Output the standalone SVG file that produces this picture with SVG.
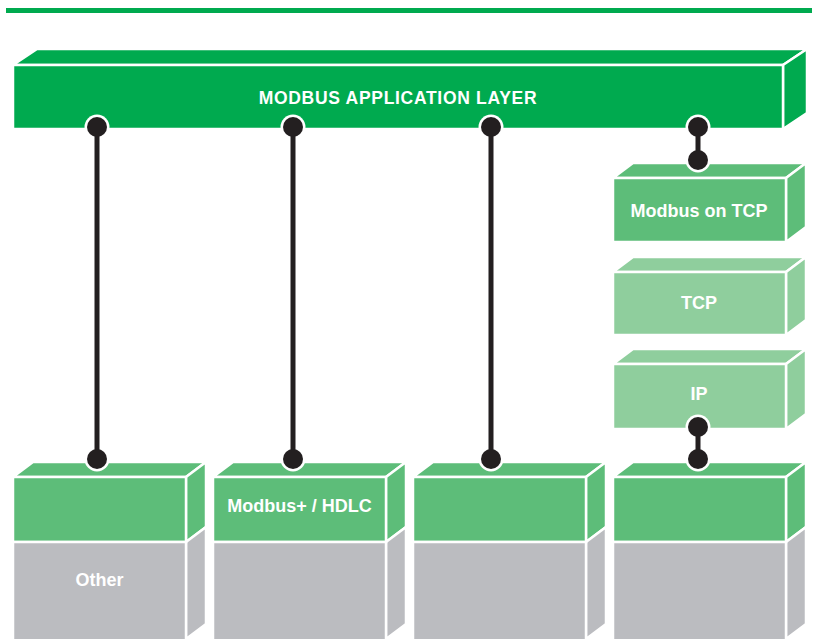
<svg xmlns="http://www.w3.org/2000/svg" width="814" height="639" viewBox="0 0 814 639">
<style>
.f{stroke:#fff;stroke-width:2.5;stroke-linejoin:miter}
.app{fill:#00aa4f}
.g{fill:#5dbd79}
.lg{fill:#8fce9d}
.gr{fill:#bbbcc0}
.t{font-family:"Liberation Sans",Arial,sans-serif;font-weight:bold;fill:#fff;text-anchor:middle;font-size:18px}
.ring{fill:#fff}
.dot{fill:#231f20}
.ln{stroke:#231f20;stroke-width:5;fill:none}
</style>
<rect x="6" y="8" width="806" height="5" fill="#00aa4f"/>
<g id="app-layer">
<polygon class="f app" points="13,65 37,49 807,49 783,65"/>
<polygon class="f app" points="783,65 807,49 807,113 783,129"/>
<rect class="f app" x="13" y="65" width="770" height="64"/>
<text class="t" x="398" y="104" style="font-size:17.5px;letter-spacing:0.7px">MODBUS APPLICATION LAYER</text>
</g>
<g id="modbus-tcp">
<polygon class="f g" points="613,178 633,163 806,163 786,178"/>
<polygon class="f g" points="786,178 806,163 806,227 786,242"/>
<rect class="f g" x="613" y="178" width="173" height="64"/>
<text class="t" x="699" y="217">Modbus on TCP</text>
</g>
<g id="tcp">
<polygon class="f lg" points="613,272 633,257 806,257 786,272"/>
<polygon class="f lg" points="786,272 806,257 806,320 786,335"/>
<rect class="f lg" x="613" y="272" width="173" height="63"/>
<text class="t" x="699" y="309">TCP</text>
</g>
<g id="ip">
<polygon class="f lg" points="613,364 633,349 806,349 786,364"/>
<polygon class="f lg" points="786,364 806,349 806,414 786,429"/>
<rect class="f lg" x="613" y="364" width="173" height="65"/>
<text class="t" x="699" y="400">IP</text>
</g>
<g id="col1">
<polygon class="f g" points="13,477 33,462 206,462 186,477"/>
<polygon class="f g" points="186,477 206,462 206,527 186,542"/>
<polygon class="f gr" points="186,542 206,527 206,624 186,639"/>
<rect class="f g" x="13" y="477" width="173" height="65"/>
<rect class="f gr" x="13" y="542" width="173" height="99"/>
<text class="t" x="99.5" y="586">Other</text>
</g>
<g id="col2">
<polygon class="f g" points="213,477 233,462 406,462 386,477"/>
<polygon class="f g" points="386,477 406,462 406,527 386,542"/>
<polygon class="f gr" points="386,542 406,527 406,624 386,639"/>
<rect class="f g" x="213" y="477" width="173" height="65"/>
<rect class="f gr" x="213" y="542" width="173" height="99"/>
<text class="t" x="299.5" y="512">Modbus+ / HDLC</text>
</g>
<g id="col3">
<polygon class="f g" points="413,477 433,462 606,462 586,477"/>
<polygon class="f g" points="586,477 606,462 606,527 586,542"/>
<polygon class="f gr" points="586,542 606,527 606,624 586,639"/>
<rect class="f g" x="413" y="477" width="173" height="65"/>
<rect class="f gr" x="413" y="542" width="173" height="99"/>
</g>
<g id="col4">
<polygon class="f g" points="613,477 633,462 806,462 786,477"/>
<polygon class="f g" points="786,477 806,462 806,527 786,542"/>
<polygon class="f gr" points="786,542 806,527 806,624 786,639"/>
<rect class="f g" x="613" y="477" width="173" height="65"/>
<rect class="f gr" x="613" y="542" width="173" height="99"/>
</g>
<g id="connectors">
<g class="ring">
<circle cx="97" cy="127" r="12.5"/><circle cx="97" cy="459" r="12.5"/>
<circle cx="293" cy="127" r="12.5"/><circle cx="293" cy="459" r="12.5"/>
<circle cx="491" cy="127" r="12.5"/><circle cx="491" cy="459" r="12.5"/>
<circle cx="698" cy="127" r="12.5"/><circle cx="698" cy="160" r="12.5"/>
<circle cx="698" cy="427" r="12.5"/><circle cx="698" cy="459" r="12.5"/>
</g>
<path class="ln" d="M97,127V459M293,127V459M491,127V459M698,127V160M698,427V459"/>
<g class="dot">
<circle cx="97" cy="127" r="10"/><circle cx="97" cy="459" r="10"/>
<circle cx="293" cy="127" r="10"/><circle cx="293" cy="459" r="10"/>
<circle cx="491" cy="127" r="10"/><circle cx="491" cy="459" r="10"/>
<circle cx="698" cy="127" r="10"/><circle cx="698" cy="160" r="10"/>
<circle cx="698" cy="427" r="10"/><circle cx="698" cy="459" r="10"/>
</g>
</g>
</svg>
